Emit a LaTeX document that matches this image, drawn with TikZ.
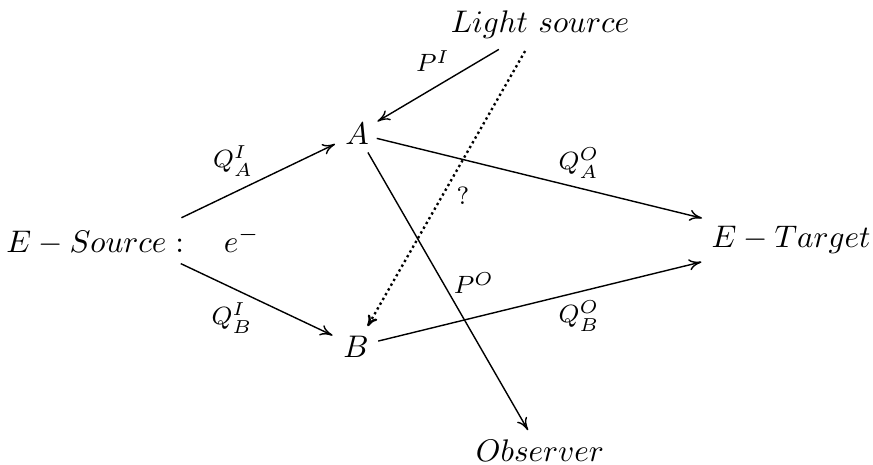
\documentclass[tikz,border=0pt]{standalone}
\usepackage{amsmath,amssymb}
\usepackage{tikz}
\usetikzlibrary{arrows.meta}

\begin{document}
\begin{tikzpicture}[x=0.01125cm,y=-0.01125cm,
  n/.style={inner sep=0pt},
  lb/.style={inner sep=0pt,font=\footnotesize},
  ar/.style={-{To[length=4pt,width=3.6pt]},line width=0.45pt},
  dt/.style={-{To[length=3.5pt,width=3.4pt]},line width=0.75pt,dash pattern=on 0.75pt off 1pt}]
\useasboundingbox (0,0) rectangle (873,464);
\node[n] (ls)  at (540,25)    {$Light\ source$};
\node[n] (A)   at (357,133.5) {$A$};
\node[n] (B)   at (356,346.5) {$B$};
\node[n] (src) at (133,241)   {$E-Source:\quad e^-$};
\node[n] (tgt) at (791,240)   {$E-Target$};
\node[n] (obs) at (540,451)   {$Observer$};
% labels
\node[lb] (pi)  at (433,61)  {$P^I$};
\node[lb] (po)  at (474,283) {$P^O$};
\node[lb] (qm)  at (463,196) {?};
\node[lb] (qai) at (233,161) {$Q^I_A$};
\node[lb] (qbi) at (232,318) {$Q^I_B$};
\node[lb] (qao) at (579,163) {$Q^O_A$};
\node[lb] (qbo) at (579,316) {$Q^O_B$};
\foreach \fa/\fb/\sa/\sb in {src/A/17.2/7.8,src/B/16.9/8.3,A/tgt/6.5/29.3,B/tgt/7.3/29.5,A/obs/7/7.7,ls/A/15.3/7.6}
  \draw[ar,shorten <=\sa pt,shorten >=\sb pt] (\fa.center) -- (\fb.center);
\draw[dt,shorten <=9.6pt,shorten >=7.5pt] (ls.center) -- (B.center);
\end{tikzpicture}
\end{document}
